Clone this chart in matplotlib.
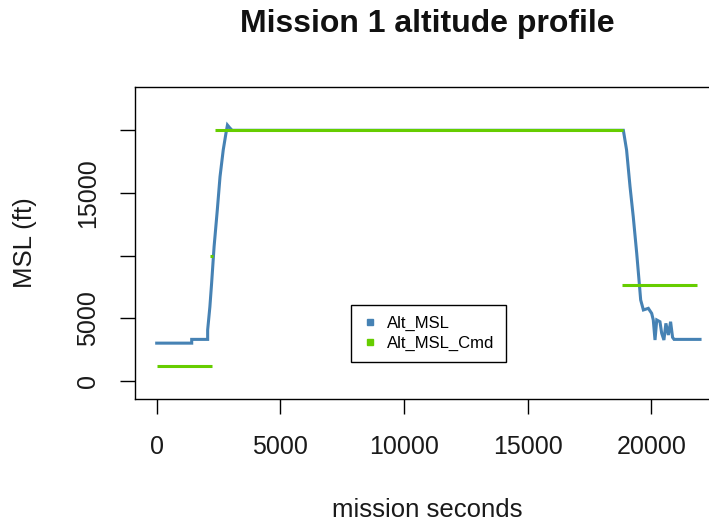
#!/usr/bin/env python3
"""
Mission 1 altitude profile: measured vs commanded MSL altitude.
"""

import numpy as np
import matplotlib
matplotlib.use('Agg')
import matplotlib.pyplot as plt
from matplotlib.lines import Line2D

plt.rcParams['font.family'] = ['Liberation Sans', 'DejaVu Sans']

# Alt_MSL (measured), mission seconds vs feet
alt_t = [0, 1415, 1415, 2060, 2060, 2150, 2220, 2320, 2450, 2560, 2690, 2800,
         2860, 2960, 3050, 18870, 19000, 19140, 19270, 19410, 19520, 19570,
         19680, 19880, 20015, 20080, 20150, 20220, 20350, 20420, 20510, 20590,
         20690, 20780, 20860, 20920, 21970]
alt_ft = [3000, 3000, 3300, 3300, 4050, 5900, 7780, 10700, 13630, 16290, 18430,
          19760, 20420, 20180, 20000, 20000, 18430, 15500, 13100, 10180, 7640,
          6450, 5650, 5780, 5380, 4850, 3250, 4850, 4710, 3790, 3250, 4580,
          3650, 4710, 3460, 3300, 3300]

# Alt_MSL_Cmd (commanded), NaN marks gaps between command segments
cmd_t = [0, 2220, np.nan, 2170, 2290, np.nan, 2360, 18870, np.nan, 18800, 21840]
cmd_ft = [1150, 1150, np.nan, 10000, 10000, np.nan, 20000, 20000, np.nan, 7640, 7640]

x_ticks = [0, 5000, 10000, 15000, 20000]
y_ticks = [0, 5000, 10000, 15000, 20000]
y_tick_labels = ['0', '5000', '', '15000', '']

blue = '#4682B4'
green = '#66CD00'

W, H = 709, 525
fig = plt.figure(figsize=(W / 100, H / 100), dpi=100)
ax = fig.add_axes([134.7 / W, 1 - 399 / H, (720 - 134.7) / W, (399 - 87.3) / H])

ax.plot(alt_t, alt_ft, color=blue, linewidth=2.2, solid_joinstyle='miter')
ax.plot(cmd_t, cmd_ft, color=green, linewidth=2.2, solid_capstyle='butt')

ax.set_xlim(-890, 22778)
ax.set_ylim(-1462, 23435)

ax.set_xticks(x_ticks)
ax.set_xticklabels([str(v) for v in x_ticks])
ax.set_yticks(y_ticks)
ax.set_yticklabels(y_tick_labels)
plt.setp(ax.get_yticklabels(), rotation=90, va='center')
ax.tick_params(direction='out', length=10.8, width=1.0, labelsize=18,
               labelcolor='#1a1a1a')
ax.tick_params(axis='x', pad=15)
ax.tick_params(axis='y', pad=14)
for s in ax.spines.values():
    s.set_linewidth(1.0)

fig.text(427 / W, 1 - 24 / H, 'Mission 1 altitude profile', ha='center',
         va='center', fontsize=23, fontweight='bold', color='#111111')
fig.text(427 / W, 1 - 510 / H, 'mission seconds', ha='center', va='center',
         fontsize=18.5, color='#1a1a1a')
fig.text(25 / W, 1 - 243 / H, 'MSL (ft)', ha='center', va='center',
         rotation=90, fontsize=18.5, color='#1a1a1a')

handles = [Line2D([], [], linestyle='none', marker='s', markersize=5,
                  color=blue),
           Line2D([], [], linestyle='none', marker='s', markersize=5,
                  color=green)]
leg = ax.legend(handles, ['Alt_MSL', 'Alt_MSL_Cmd'], loc='center',
                bbox_to_anchor=(428.5 / W, 1 - 333.5 / H),
                bbox_transform=fig.transFigure, fontsize=12, frameon=True,
                fancybox=False, edgecolor='black', framealpha=1,
                handlelength=0.8, handletextpad=0.6, labelspacing=0.25,
                borderpad=0.7)
leg.get_frame().set_linewidth(1.0)

fig.savefig('out.png', dpi=100)
